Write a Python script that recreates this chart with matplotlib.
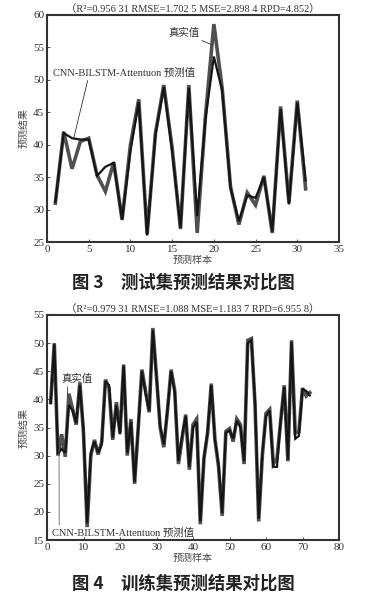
import matplotlib
matplotlib.use("Agg")
import matplotlib.pyplot as plt
import numpy as np

plt.rcParams['font.family'] = ['Liberation Serif', 'Noto Sans CJK SC', 'DejaVu Sans']

# ---- Test set (Fig. 3) ----
test_x = list(range(1, 32))
test_true = [31.0, 42.0, 36.3, 40.5, 41.0, 35.3, 32.8, 37.3, 28.4, 40.0, 47.0, 26.2, 41.8, 49.2,
             39.5, 27.0, 49.2, 26.4, 44.5, 58.6, 48.7, 33.5, 27.7, 32.6, 30.7, 35.2, 26.4, 45.9,
             31.0, 46.8, 33.2]
test_pred = [31.2, 41.8, 41.0, 40.8, 40.8, 35.2, 36.6, 37.2, 28.5, 39.0, 46.6, 26.0, 41.5, 48.9,
             39.0, 27.2, 48.8, 29.0, 44.0, 53.6, 48.3, 33.3, 28.2, 32.2, 31.8, 35.0, 26.6, 45.5,
             30.8, 46.5, 34.5]
test_xticks = [0, 5, 10, 15, 20, 25, 30, 35]
test_yticks = [25, 30, 35, 40, 45, 50, 55, 60]
test_title = "（R²=0.956 31 RMSE=1.702 5 MSE=2.898 4 RPD=4.852）"
test_caption = "图 3\u3000测试集预测结果对比图"

# ---- Training set (Fig. 4) ----
train_x = list(range(1, 73))
train_true = [39.5, 50.0, 30.0, 33.8, 29.8, 41.0, 38.3, 35.5, 43.0, 34.0, 17.3, 30.0, 32.8, 30.2,
              32.5, 43.5, 42.0, 32.8, 39.5, 34.0, 46.2, 30.0, 36.5, 25.0, 35.0, 45.3, 41.5, 37.7,
              52.7, 44.0, 35.0, 31.5, 38.0, 45.3, 41.5, 28.5, 33.0, 37.3, 27.5, 35.5, 36.5, 17.8,
              29.5, 34.0, 42.8, 33.0, 28.0, 19.3, 34.3, 34.8, 32.5, 36.5, 35.5, 28.5, 50.5, 50.8,
              39.0, 18.3, 30.0, 37.5, 38.2, 28.5, 29.5, 36.0, 42.5, 29.0, 50.5, 34.0, 34.2, 42.0,
              40.6, 41.2]
train_pred = [39.3, 49.8, 30.3, 31.2, 30.5, 39.0, 38.0, 35.8, 42.5, 34.5, 18.0, 30.5, 32.5, 30.5,
              32.0, 43.2, 42.5, 33.2, 39.0, 33.8, 46.0, 30.5, 36.0, 25.3, 35.0, 45.0, 41.0, 38.0,
              52.3, 44.0, 35.3, 32.0, 38.0, 45.0, 41.3, 29.0, 33.5, 37.0, 28.0, 35.0, 36.0, 18.3,
              29.5, 34.3, 42.5, 32.8, 28.5, 19.8, 34.0, 34.5, 33.0, 36.2, 35.0, 29.0, 50.0, 50.5,
              39.5, 18.8, 30.5, 37.0, 38.0, 28.0, 28.0, 36.0, 42.2, 29.3, 50.2, 33.0, 33.5, 41.8,
              41.5, 40.7]
train_xticks = [0, 10, 20, 30, 40, 50, 60, 70, 80]
train_yticks = [15, 20, 25, 30, 35, 40, 45, 50, 55]
train_title = "（R²=0.979 31 RMSE=1.088 MSE=1.183 7 RPD=6.955 8）"
train_caption = "图 4\u3000训练集预测结果对比图"

label_true = "真实值"
label_pred = "CNN-BILSTM-Attentuon 预测值"

W, H = 370, 595
fig = plt.figure(figsize=(W / 100, H / 100), dpi=100)
fig.patch.set_facecolor('white')

def frac(l, t, r, b):
    return [l / W, 1 - b / H, (r - l) / W, (b - t) / H]

ax1 = fig.add_axes(frac(47, 15, 339, 242))
ax2 = fig.add_axes(frac(47, 315, 339, 540))

def style(ax, xt, yt, xl, yl):
    ax.set_xlim(xl)
    ax.set_ylim(yl)
    ax.set_xticks(xt)
    ax.set_yticks(yt)
    ax.tick_params(direction='in', length=2, width=0.6, labelsize=8, colors='#333333', pad=2)
    for s in ax.spines.values():
        s.set_linewidth(1.5)
        s.set_color('#333333')
    ax.set_xlabel("预测样本", family=['Noto Sans CJK SC'], fontsize=7.2, color='#444444', labelpad=1)
    ax.set_ylabel("预测结果", family=['Noto Sans CJK SC'], fontsize=7.2, color='#444444', labelpad=3)

def draw(ax, x, yt, yp):
    ax.plot(x, yt, color='#505050', lw=2.6, solid_joinstyle='miter', zorder=2)
    ax.plot(x, yp, color='#151515', lw=1.6, solid_joinstyle='miter', zorder=3)

# Fig 3
draw(ax1, test_x, test_true, test_pred)
style(ax1, test_xticks, test_yticks, (0, 35), (25, 60))
ax1.set_title(test_title, fontsize=7.5, color='#333333', pad=2)
ax1.annotate(label_true, xy=(19.8, 55.4), xytext=(14.5, 57.2),
             fontsize=7.5, family=['Noto Sans CJK SC'], color='#333333', va='center',
             arrowprops=dict(arrowstyle='-', lw=0.6, color='#333333', shrinkA=0, shrinkB=0))
ax1.annotate(label_pred, xy=(3.2, 41.0), xytext=(0.7, 51.1),
             fontsize=7.5, family=['Liberation Serif', 'Noto Sans CJK SC'], color='#333333', va='center',
             arrowprops=dict(arrowstyle='-', lw=0.6, color='#333333', shrinkA=0, shrinkB=0,
                             relpos=(0.25, 0.0)))

# Fig 4
draw(ax2, train_x, train_true, train_pred)
style(ax2, train_xticks, train_yticks, (0, 80), (15, 55))
ax2.set_title(train_title, fontsize=7.5, color='#333333', pad=2)
ax2.annotate(label_true, xy=(5.6, 40.5), xytext=(4.0, 43.6),
             fontsize=7.5, family=['Noto Sans CJK SC'], color='#333333', va='center',
             arrowprops=dict(arrowstyle='-', lw=0.6, color='#333333', shrinkA=0, shrinkB=0,
                             relpos=(0.2, 0.0)))
ax2.annotate(label_pred, xy=(3.3, 31.0), xytext=(1.4, 16.3),
             fontsize=7.5, family=['Liberation Serif', 'Noto Sans CJK SC'], color='#333333', va='center',
             arrowprops=dict(arrowstyle='-', lw=0.6, color='#666666', shrinkA=0, shrinkB=0,
                             relpos=(0.05, 1.0)))

fig.text(183 / W, 1 - 283 / H, test_caption, family=['Noto Sans CJK SC'], fontsize=12.5,
         fontweight='bold', ha='center', va='center', color='#222222')
fig.text(183 / W, 1 - 584 / H, train_caption, family=['Noto Sans CJK SC'], fontsize=12.5,
         fontweight='bold', ha='center', va='center', color='#222222')

fig.savefig("out.png", dpi=100, facecolor='white')
